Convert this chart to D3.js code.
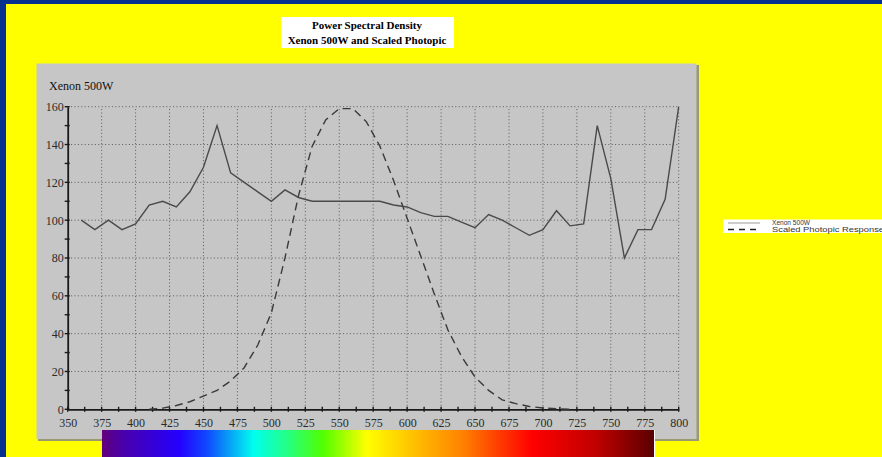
<!DOCTYPE html>
<html>
<head>
<meta charset="utf-8">
<script src="https://cdn.jsdelivr.net/npm/d3@7"></script>
<style>
  body { margin: 0; background: #ffff00; }
  svg { display: block; }
</style>
</head>
<body>
<svg id="svg" width="882" height="457"></svg>
<script>
// wavelengths (nm) and PSD values
const xenonNm = [360,370,380,390,400,410,420,430,440,450,460,470,480,490,500,510,520,530,540,550,560,570,580,590,600,610,620,630,640,650,660,670,680,690,700,710,720,730,740,750,760,770,780,790,800];
const xenonVal = [100,95,100,95,98,108,110,107,115,128,150,125,120,115,110,116,112,110,110,110,110,110,110,108,107,104,102,102,99,96,103,100,96,92,95,105,97,98,150,122,80,95,95,111,160];

const photNm = [410,420,430,440,450,460,470,480,490,500,510,520,530,540,550,560,570,580,590,600,610,620,630,640,650,660,670,680,690,700,710,720];
const photVal = [0,0.6,2,4,7,10,15,22,34,51,80,113,139,153,159,159,152,139,121,101,81,61,42,28,17,10,5,3,1.5,0.7,0.3,0];

const xTicks = [350,375,400,425,450,475,500,525,550,575,600,625,650,675,700,725,750,775,800];
const yTicks = [0,20,40,60,80,100,120,140,160];

const titleLines = ["Power Spectral Density", "Xenon 500W and Scaled Photopic"];
const legendNames = ["Xenon 500W", "Scaled Photopic Response"];

// colour bar stops (fraction, colour)
const spectrumStops = [
  [0, "#62007a"], [0.035, "#4a00a8"], [0.14, "#2400ff"], [0.19, "#1048ff"],
  [0.275, "#00ffee"], [0.33, "#20ff90"], [0.4, "#50ff00"], [0.48, "#ffff00"],
  [0.565, "#ffc000"], [0.655, "#ff8000"], [0.715, "#ff4000"], [0.78, "#ff0000"],
  [0.895, "#c00000"], [1, "#5a0000"]
];

const svg = d3.select("#svg");

// blue frame on top and left
svg.append("rect").attr("x", 0).attr("y", 0).attr("width", 882).attr("height", 4).attr("fill", "#06308e");
svg.append("rect").attr("x", 0).attr("y", 0).attr("width", 6).attr("height", 457).attr("fill", "#06308e");

// title box
svg.append("rect").attr("x", 281).attr("y", 17).attr("width", 173).attr("height", 31).attr("fill", "#fff");
svg.selectAll(".title").data(titleLines).enter().append("text")
  .attr("x", 367).attr("y", (d, i) => 29 + i * 15)
  .attr("text-anchor", "middle")
  .attr("font-family", "Liberation Serif, serif").attr("font-size", 11).attr("font-weight", "bold")
  .text(d => d);

// panel with shadow
svg.append("rect").attr("x", 38).attr("y", 65).attr("width", 661).attr("height", 376).attr("fill", "#9a9a70");
svg.append("rect").attr("x", 36.5).attr("y", 63.5).attr("width", 660).attr("height", 375.5).attr("fill", "#c6c6c6");

svg.append("text").attr("x", 49).attr("y", 90)
  .attr("font-family", "Liberation Serif, serif").attr("font-size", 12).attr("fill", "#111")
  .text("Xenon 500W");

const x = d3.scaleLinear().domain([350, 800]).range([67.7, 678.7]);
const y = d3.scaleLinear().domain([0, 160]).range([409.3, 106.7]);

const g = svg.append("g");

// dotted grid
g.selectAll(".vgrid").data(xTicks.slice(1)).enter().append("line")
  .attr("x1", d => x(d)).attr("x2", d => x(d)).attr("y1", y(0)).attr("y2", y(160))
  .attr("stroke", "#5a5a5a").attr("stroke-width", 1).attr("stroke-dasharray", "1,2.4");
g.selectAll(".hgrid").data(yTicks.slice(1)).enter().append("line")
  .attr("x1", x(350)).attr("x2", x(800)).attr("y1", d => y(d)).attr("y2", d => y(d))
  .attr("stroke", "#5a5a5a").attr("stroke-width", 1).attr("stroke-dasharray", "1,2.4");

// axes
const xAxis = d3.axisBottom(x).tickValues(xTicks).tickSize(0).tickPadding(9);
const yAxis = d3.axisLeft(y).tickValues(yTicks).tickSize(0).tickPadding(4);

const gx = g.append("g").attr("transform", `translate(0,${y(0)})`).call(xAxis);
const gy = g.append("g").attr("transform", `translate(${x(350)},0)`).call(yAxis);
[gx, gy].forEach(a => {
  a.select(".domain").attr("stroke", "#1a1a1a").attr("stroke-width", 1.8);
  a.selectAll("text").attr("font-family", "Liberation Serif, serif").attr("font-size", 12).attr("fill", "#2a2a2a");
});

// small tick marks along the axes
const xMinor = d3.range(350, 800.1, 12.5);
g.selectAll(".xmin").data(xMinor).enter().append("line")
  .attr("x1", d => x(d)).attr("x2", d => x(d)).attr("y1", y(0) - 2.5).attr("y2", y(0) + 2.5)
  .attr("stroke", "#1a1a1a").attr("stroke-width", 1.4);
const yMinor = d3.range(0, 160.1, 10);
g.selectAll(".ymin").data(yMinor).enter().append("line")
  .attr("x1", x(350) - 3).attr("x2", x(350) + 2).attr("y1", d => y(d)).attr("y2", d => y(d))
  .attr("stroke", "#1a1a1a").attr("stroke-width", 1.4);

// lines
const line = d3.line().x(d => x(d[0])).y(d => y(d[1]));
g.append("path").datum(photNm.map((n, i) => [n, photVal[i]]))
  .attr("d", line).attr("fill", "none")
  .attr("stroke", "#3a3a3a").attr("stroke-width", 1.4).attr("stroke-dasharray", "8,5");
g.append("path").datum(xenonNm.map((n, i) => [n, xenonVal[i]]))
  .attr("d", line).attr("fill", "none")
  .attr("stroke", "#4a4a4a").attr("stroke-width", 1.4);

// legend
svg.append("rect").attr("x", 723).attr("y", 219.5).attr("width", 159).attr("height", 13.5).attr("fill", "#fff");
const leg = svg.selectAll(".leg").data(legendNames).enter().append("g")
  .attr("transform", (d, i) => `translate(0,${223 + i * 6.5})`);
leg.append("line").attr("x1", 728).attr("x2", 760).attr("y1", 0).attr("y2", 0)
  .attr("stroke", (d, i) => i ? "#222" : "#999").attr("stroke-width", (d, i) => i ? 1.3 : 1)
  .attr("stroke-dasharray", (d, i) => i ? "6,5" : null);
leg.append("text").attr("x", 772).attr("y", 2.3)
  .attr("font-family", "Liberation Sans, Arial, sans-serif").attr("font-size", 6.5).attr("fill", "#333")
  .attr("textLength", (d, i) => i ? 112 : 38).attr("lengthAdjust", "spacingAndGlyphs")
  .text(d => d);

// spectrum colour bar
const grad = svg.append("defs").append("linearGradient").attr("id", "spec");
grad.selectAll("stop").data(spectrumStops).enter().append("stop")
  .attr("offset", d => d[0]).attr("stop-color", d => d[1]);
svg.append("rect").attr("x", 102).attr("y", 430).attr("width", 552).attr("height", 27).attr("fill", "url(#spec)");
svg.append("line").attr("x1", 654.5).attr("x2", 654.5).attr("y1", 430).attr("y2", 457).attr("stroke", "#fff");
</script>
</body>
</html>
